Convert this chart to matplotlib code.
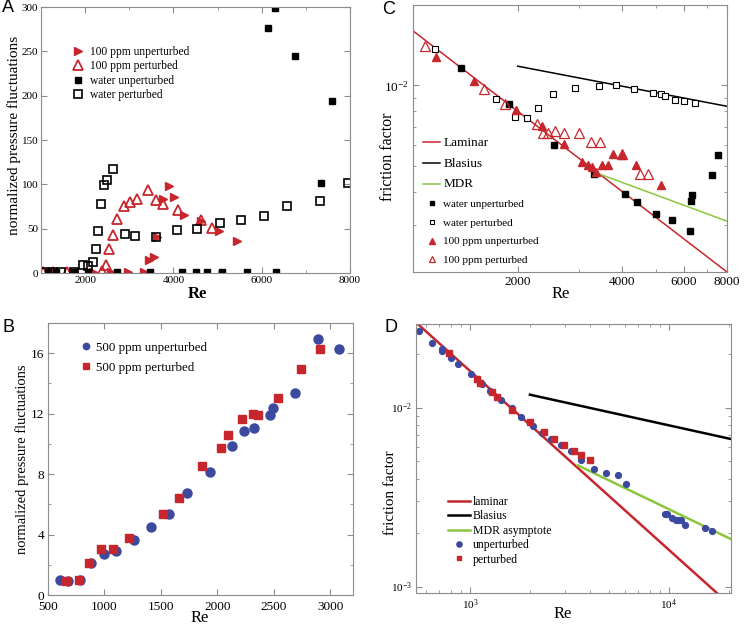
import matplotlib
matplotlib.use("Agg")
import matplotlib.pyplot as plt
from matplotlib.ticker import FixedLocator, MultipleLocator, NullFormatter, LogLocator

plt.rcParams["font.family"] = ["Liberation Serif", "DejaVu Serif"]
plt.rcParams["mathtext.fontset"] = "stix"

RED = "#c8262d"; BLUE = "#3b4a9e"; GREEN = "#8cc63f"; GRAY = "#8c8c8c"

# ---- panel A: pressure fluctuations, water vs 100 ppm
a_wu_re = [1150, 1350, 1750, 2054, 2720, 3470, 4184, 4520, 4760, 5090, 5664, 6142, 6291, 6330, 6762, 7338, 7599]
a_wu_val = [1, 1, 1, 1, 1, 1, 1, 1, 1, 1, 1, 276, 299, 1, 245, 101, 194]
a_wp_re = [1100, 1269, 1455, 1755, 1957, 2054, 2181, 2256, 2293, 2352, 2428, 2502, 2629, 2898, 3137, 3601,
           4072, 4535, 5066, 5529, 6052, 6576, 7323, 7944]
a_wp_val = [1, 1, 1, 1, 9.4, 7.5, 12, 27, 47.7, 78, 99, 105, 117, 44, 41.4, 40.6,
            48.9, 49.6, 56.4, 59.4, 63.9, 75.9, 81.6, 102]
a_pu_re = [1269, 1755, 2181, 2576, 2973, 3325, 3444, 3549, 3623, 3773, 3908, 4020, 4244, 4632, 5043, 5439]
a_pu_val = [1, 1, 1, 1, 1, 1, 15, 17.7, 40.6, 83.8, 97.7, 85.7, 65.8, 58.3, 47.7, 35.7]
a_pp_re = [1050, 1269, 1600, 2374, 2465, 2540, 2629, 2726, 2877, 3025, 3175, 3418, 3605, 3755, 4110, 4616, 4880]
a_pp_val = [1, 1, 1, 2.3, 8.6, 27, 42.9, 60.5, 75.9, 80.5, 83.8, 93.2, 82, 77.8, 71, 60, 51]

# ---- panel B: 500 ppm
b_u_re = [606, 676, 780, 877, 994, 1103, 1259, 1412, 1574, 1733, 1935, 2133, 2239, 2327, 2462, 2488, 2686, 2892, 3074]
b_u_val = [0.99, 0.95, 0.99, 2.09, 2.71, 2.93, 3.64, 4.47, 5.33, 6.72, 8.15, 9.85, 10.86, 11.02, 11.94, 12.38, 13.4, 16.97, 16.3]
b_p_re = [662, 774, 862, 965, 1074, 1221, 1515, 1662, 1862, 2032, 2097, 2221, 2318, 2356, 2539, 2739, 2912]
b_p_val = [0.95, 0.99, 2.09, 3.04, 3.04, 3.75, 5.35, 6.43, 8.55, 9.74, 10.57, 11.68, 12.01, 11.88, 13.04, 14.98, 16.3]

# ---- panel C: friction factor, water vs 100 ppm
c_lam_re = [1000, 8000]; c_lam_f = [0.016, 0.002]
c_bla_re = [2000, 8000]; c_bla_f = [0.0118, 0.00835]
c_mdr_re = [3430, 8000]; c_mdr_f = [0.00466, 0.0031]
c_wu_re = [1377, 1884, 2536, 3319, 4064, 4400, 4988, 5566, 6244, 6287, 6353, 7250, 7542]
c_wu_f = [0.01158, 0.00854, 0.00596, 0.00464, 0.00393, 0.00367, 0.00331, 0.00312, 0.00285, 0.00369, 0.00388, 0.00461, 0.00547]
c_wp_re = [1154, 1735, 1970, 2122, 2282, 2520, 2927, 3430, 3830, 4322, 4909, 5156, 5303, 5668, 6014, 6454]
c_wp_f = [0.01364, 0.00886, 0.00761, 0.00757, 0.00825, 0.00925, 0.00974, 0.00994, 0.01003, 0.00966, 0.00939, 0.00931, 0.00912, 0.00879, 0.00871, 0.00861]
c_pu_re = [1161, 1493, 1979, 2350, 2722, 3072, 3190, 3282, 3370, 3507, 3640, 3764, 3986, 4389, 5156]
c_pu_f = [0.0128, 0.0104, 0.00806, 0.00704, 0.00605, 0.00516, 0.00503, 0.00494, 0.00475, 0.00503, 0.00503, 0.00555, 0.00547, 0.00503, 0.00423]
c_pp_re = [1080, 1605, 1844, 2267, 2359, 2438, 2565, 2710, 3005, 3259, 3447, 3986, 4488, 4750]
c_pp_f = [0.0140, 0.00966, 0.00854, 0.00715, 0.00665, 0.00665, 0.00674, 0.00665, 0.00665, 0.00615, 0.00615, 0.00551, 0.00464, 0.00464]

# ---- panel D: friction factor, 500 ppm
d_lam_re = [535, 18200]; d_lam_f = [0.0299, 0.00088]
d_bla_re = [2000, 20500]; d_bla_f = [0.0118, 0.00667]
d_mdr_re = [3475, 20500]; d_mdr_f = [0.00476, 0.00184]
d_u_re = [555, 645, 720, 725, 802, 867, 1008, 1146, 1262, 1433, 1623, 1802, 2071, 2300, 2560, 2855, 3210, 3628,
          4220, 4850, 5534, 6095, 9583, 9770, 10313, 10804, 11100, 11450, 12089, 15130, 16480]
d_u_f = [0.0268, 0.0228, 0.0212, 0.0207, 0.0190, 0.0176, 0.0153, 0.0135, 0.0123, 0.0110, 0.0099, 0.0089, 0.0079,
         0.0072, 0.0067, 0.0062, 0.0057, 0.0051, 0.00455, 0.0043, 0.0042, 0.00375, 0.00253, 0.00253, 0.00243,
         0.00234, 0.00234, 0.00234, 0.00222, 0.00212, 0.00203]
d_p_re = [786, 1088, 1123, 1287, 1373, 1622, 1991, 2361, 2652, 2954, 3320, 3615, 3996]
d_p_f = [0.0201, 0.0145, 0.0137, 0.0122, 0.0114, 0.0097, 0.0083, 0.0073, 0.0067, 0.0062, 0.0057, 0.0054, 0.0051]

W, H = 744, 625
fig = plt.figure(figsize=(W / 100, H / 100), dpi=100)

def box(l, t, r, b):
    return fig.add_axes([l / W, 1 - b / H, (r - l) / W, (b - t) / H])

def style(ax, size, pad=3):
    for s in ax.spines.values():
        s.set_color(GRAY); s.set_linewidth(0.8)
    ax.tick_params(which="both", direction="in", top=True, right=True, color=GRAY, labelsize=size, pad=pad)
    ax.tick_params(which="major", length=4)
    ax.tick_params(which="minor", length=2)

def px_label(ax, axis, x, y):
    # place an axis label at figure pixel coords
    inv = ax.transAxes.inverted()
    fx, fy = inv.transform(fig.transFigure.transform((x / W, 1 - y / H)))
    (ax.yaxis if axis == "y" else ax.xaxis).set_label_coords(fx, fy)

axA = box(41, 7, 350, 273)
axB = box(48, 323, 353, 595)
axC = box(413, 5, 727, 272)
axD = box(416, 324, 731, 593)

# A
ax = axA
ax.plot(a_pu_re, a_pu_val, ">", color=RED, ms=6, ls="none", label="100 ppm unperturbed")
ax.plot(a_pp_re, a_pp_val, "^", mfc="none", mec=RED, mew=1.3, ms=7, ls="none", label="100 ppm perturbed")
ax.plot(a_wu_re, a_wu_val, "s", color="black", ms=4.5, ls="none", label="water unperturbed")
ax.plot(a_wp_re, a_wp_val, "s", mfc="none", mec="black", mew=1.2, ms=5.5, ls="none", label="water perturbed")
ax.set_xlim(1000, 8000); ax.set_ylim(0, 300)
ax.xaxis.set_major_locator(FixedLocator([2000, 4000, 6000, 8000])); ax.xaxis.set_minor_locator(MultipleLocator(1000))
ax.yaxis.set_major_locator(MultipleLocator(50))
style(ax, 8, pad=2)
ax.set_ylabel("normalized pressure fluctuations", fontsize=11)
px_label(ax, "y", 21, 135)
ax.set_xlabel("Re", fontsize=12, fontweight="bold")
px_label(ax, "x", 197, 286)
ax.legend(loc="upper left", bbox_to_anchor=(0.084, 0.875), frameon=False, fontsize=8.3, handlelength=1,
          handletextpad=0.5, labelspacing=0.2, borderpad=0)

# B
ax = axB
ax.plot(b_u_re, b_u_val, "o", color=BLUE, ms=6.5, ls="none", label="500 ppm unperturbed")
ax.plot(b_p_re, b_p_val, "s", color=RED, ms=5.5, ls="none", label="500 ppm perturbed")
ax.set_xlim(500, 3200); ax.set_ylim(0, 18)
ax.xaxis.set_major_locator(MultipleLocator(500))
ax.yaxis.set_major_locator(MultipleLocator(4)); ax.yaxis.set_minor_locator(MultipleLocator(2))
style(ax, 9.5, pad=2.5)
ax.tick_params(axis="x", pad=4.5)
ax.set_ylabel("normalized pressure fluctuations", fontsize=10.5)
px_label(ax, "y", 29, 459)
ax.set_xlabel("Re", fontsize=12)
px_label(ax, "x", 200, 610)
ax.legend(loc="upper left", bbox_to_anchor=(0.085, 0.955), frameon=False, fontsize=9.3, handlelength=0.8,
          handletextpad=0.4, labelspacing=0.6, borderpad=0, markerscale=0.7)

# C
ax = axC
ax.set_xscale("log"); ax.set_yscale("log")
ax.plot(c_lam_re, c_lam_f, color=RED, lw=1.1, label="Laminar")
ax.plot(c_bla_re, c_bla_f, color="black", lw=1.1, label="Blasius")
ax.plot(c_mdr_re, c_mdr_f, color=GREEN, lw=1.1, label="MDR")
ax.plot(c_wu_re, c_wu_f, "s", color="black", ms=4, ls="none", label="water unperturbed")
ax.plot(c_wp_re, c_wp_f, "s", mfc="white", mec="black", mew=0.8, ms=4.5, ls="none", label="water perturbed")
ax.plot(c_pu_re, c_pu_f, "^", color=RED, ms=5.5, ls="none", label="100 ppm unperturbed")
ax.plot(c_pp_re, c_pp_f, "^", mfc="none", mec=RED, mew=0.9, ms=6.5, ls="none", label="100 ppm perturbed")
ax.set_xlim(1000, 8000); ax.set_ylim(0.002, 0.02)
ax.xaxis.set_major_locator(FixedLocator([2000, 4000, 6000, 8000]))
ax.xaxis.set_major_formatter(plt.FuncFormatter(lambda v, p: f"{v:.0f}"))
ax.xaxis.set_minor_locator(FixedLocator([1000, 3000, 5000, 7000])); ax.xaxis.set_minor_formatter(NullFormatter())
ax.yaxis.set_major_locator(FixedLocator([0.01]))
ax.yaxis.set_minor_locator(LogLocator(subs=range(2, 10))); ax.yaxis.set_minor_formatter(NullFormatter())
style(ax, 9.5)
ax.set_ylabel("friction factor", fontsize=11.5)
px_label(ax, "y", 396, 157)
ax.set_xlabel("Re", fontsize=12)
px_label(ax, "x", 561, 286)
leg = ax.legend(loc="lower left", bbox_to_anchor=(0.015, 0.005), frameon=False, fontsize=8, handlelength=1.5,
                handletextpad=0.3, labelspacing=0.8, borderpad=0, markerscale=0.75)
for t in leg.get_texts()[:3]:
    t.set_fontsize(9.5)

# D
ax = axD
ax.set_xscale("log"); ax.set_yscale("log")
ax.plot(d_lam_re, d_lam_f, color=RED, lw=1.8, label="laminar")
ax.plot(d_bla_re, d_bla_f, color="black", lw=1.8, label="Blasius")
ax.plot(d_mdr_re, d_mdr_f, color=GREEN, lw=1.8, label="MDR asymptote")
ax.plot(d_u_re, d_u_f, "o", color=BLUE, ms=4.2, ls="none", label="unperturbed")
ax.plot(d_p_re, d_p_f, "s", color=RED, ms=3.8, ls="none", label="perturbed")
ax.set_xlim(535, 20500); ax.set_ylim(9.2e-4, 0.0293)
ax.xaxis.set_major_locator(FixedLocator([1e3, 1e4]))
ax.yaxis.set_major_locator(FixedLocator([1e-3, 1e-2]))
for a in (ax.xaxis, ax.yaxis):
    a.set_minor_locator(LogLocator(subs=range(2, 10))); a.set_minor_formatter(NullFormatter())
style(ax, 8)
ax.set_ylabel("friction factor", fontsize=11)
px_label(ax, "y", 397, 493)
ax.set_xlabel("Re", fontsize=12)
px_label(ax, "x", 563, 606)
ax.legend(loc="lower left", bbox_to_anchor=(0.082, 0.08), frameon=False, fontsize=8.5, handlelength=1.9,
          handletextpad=0.2, labelspacing=0.2, borderpad=0, markerscale=0.9)

for lab, x, y in (("A", 2, 8), ("B", 2, 327), ("C", 382, 9), ("D", 385, 327)):
    fig.text(x / W, 1 - y / H, lab, fontsize=13, family="Liberation Sans", va="center", ha="left")

fig.savefig("out.png", dpi=100)
